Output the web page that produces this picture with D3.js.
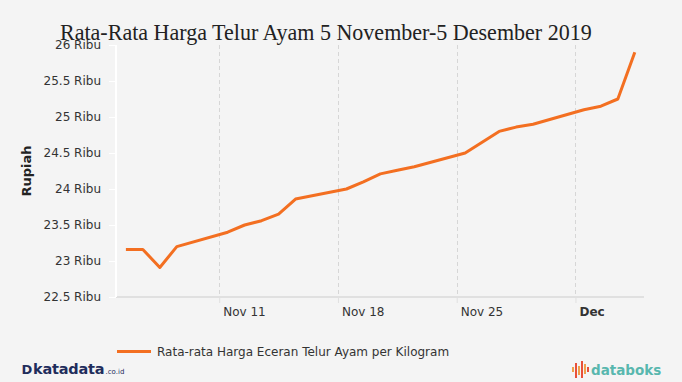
<!DOCTYPE html>
<html>
<head>
<meta charset="utf-8">
<script src="https://cdn.jsdelivr.net/npm/d3@7"></script>
<style>
  html, body { margin: 0; padding: 0; background: #f4f4f4; }
  svg { display: block; }
</style>
</head>
<body>
<div id="chart"></div>
<script>
// ---- Data ----
const titleText = "Rata-Rata Harga Telur Ayam 5 November-5 Desember 2019";
const seriesName = "Rata-rata Harga Eceran Telur Ayam per Kilogram";
const yAxisTitle = "Rupiah";
const dates = ["2019-11-05","2019-11-06","2019-11-07","2019-11-08",
  "2019-11-11","2019-11-12","2019-11-13","2019-11-14","2019-11-15",
  "2019-11-18","2019-11-19","2019-11-20","2019-11-21","2019-11-22",
  "2019-11-25","2019-11-26","2019-11-27","2019-11-28","2019-11-29",
  "2019-12-02","2019-12-03","2019-12-04","2019-12-05"];
const values = [23.16,23.16,22.91,23.2,
  23.4,23.5,23.56,23.65,23.86,
  24.0,24.1,24.21,24.26,24.31,
  24.5,24.65,24.8,24.86,24.9,
  25.1,25.15,25.25,25.9];
const yTicks = [22.5,23,23.5,24,24.5,25,25.5,26];
const xTickDates = ["2019-11-11","2019-11-18","2019-11-25","2019-12-02"];
const xTickLabels = ["Nov 11","Nov 18","Nov 25","Dec"];
const xDomain = ["2019-11-04T22:00","2019-12-06T01:00"];

// ---- Setup ----
const W = 682, H = 382;
const plot = {left: 116, right: 644, top: 45, bottom: 297};
const parseDay = d3.timeParse("%Y-%m-%d");
const parseDT = d3.timeParse("%Y-%m-%dT%H:%M");
const noon = s => d3.timeHour.offset(parseDay(s), 12);

const svg = d3.select("#chart").append("svg").attr("width", W).attr("height", H);
svg.append("rect").attr("width", W).attr("height", H).attr("fill", "#f4f4f4");

const x = d3.scaleTime().domain(xDomain.map(parseDT)).range([plot.left, plot.right]);
const y = d3.scaleLinear().domain([22.5, 26]).range([plot.bottom, plot.top]);

// vertical dashed grid
svg.append("g").selectAll("line").data(xTickDates).join("line")
  .attr("x1", d => Math.round(x(parseDay(d))) + 0.5)
  .attr("x2", d => Math.round(x(parseDay(d))) + 0.5)
  .attr("y1", plot.top).attr("y2", plot.bottom)
  .attr("stroke", "#d6d6d6").attr("stroke-width", 1).attr("stroke-dasharray", "4,3");

// x axis
const xAxis = d3.axisBottom(x)
  .tickValues(xTickDates.map(parseDay))
  .tickSize(6)
  .tickFormat((d, i) => xTickLabels[i]);
const gx = svg.append("g").attr("transform", `translate(0,${plot.bottom})`).call(xAxis);
gx.select(".domain").attr("stroke", "#e0e0e0").attr("stroke-width", 2)
  .attr("d", `M${plot.left},0H${plot.right}`);
gx.selectAll(".tick line").attr("stroke", "#e0e0e0").attr("stroke-width", 1);
gx.selectAll(".tick text")
  .attr("text-anchor", "start").attr("x", 3.5).attr("y", 19).attr("dy", 0)
  .attr("fill", "#333").style("font-family", "DejaVu Sans").style("font-size", "12px")
  .style("font-weight", (d, i) => xTickLabels[i] === "Dec" ? "bold" : "normal");

// y axis
const yAxis = d3.axisLeft(y).tickValues(yTicks).tickSize(7).tickPadding(8)
  .tickFormat(d => d3.format("")(d) + " Ribu");
const gy = svg.append("g").attr("transform", `translate(${plot.left},0)`).call(yAxis);
gy.select(".domain").attr("stroke", "#ffffff").attr("stroke-width", 2)
  .attr("d", `M0,${plot.top}V${plot.bottom}`);
gy.selectAll(".tick line").attr("stroke", "#ffffff").attr("stroke-width", 1);
gy.selectAll(".tick text").attr("fill", "#333")
  .style("font-family", "DejaVu Sans").style("font-size", "12px");

// y axis title
svg.append("text")
  .attr("transform", `translate(31,${(plot.top + plot.bottom) / 2}) rotate(-90)`)
  .attr("text-anchor", "middle")
  .style("font-family", "DejaVu Sans").style("font-size", "13px").style("font-weight", "bold")
  .attr("fill", "#222").text(yAxisTitle);

// line
const data = dates.map((d, i) => ({date: noon(d), value: values[i]}));
const line = d3.line().x(d => x(d.date)).y(d => y(d.value));
svg.append("path").datum(data).attr("d", line)
  .attr("fill", "none").attr("stroke", "#f36f21").attr("stroke-width", 3)
  .attr("stroke-linejoin", "round").attr("stroke-linecap", "butt");

// title
const title = svg.append("text").attr("x", 60).attr("y", 40)
  .style("font-family", "Liberation Serif").style("font-size", "22px")
  .attr("fill", "#222").text(titleText);
const tw = title.node().getComputedTextLength();
title.style("font-size", (22 * 532 / tw).toFixed(2) + "px");

// legend
svg.append("line").attr("x1", 117).attr("x2", 151).attr("y1", 351.5).attr("y2", 351.5)
  .attr("stroke", "#f36f21").attr("stroke-width", 3);
svg.append("text").attr("x", 157).attr("y", 356)
  .style("font-family", "DejaVu Sans").style("font-size", "12px")
  .attr("fill", "#333").text(seriesName);

// katadata logo
svg.append("text").attr("x", 21.5).attr("y", 374)
  .style("font-family", "DejaVu Sans").style("font-size", "13px").style("font-weight", "bold")
  .attr("fill", "#1f2d5c").text("D");
svg.append("text").attr("x", 33).attr("y", 374)
  .style("font-family", "DejaVu Sans").style("font-size", "14.5px").style("font-weight", "bold")
  .attr("fill", "#1f2d5c").attr("letter-spacing", "-0.2").text("katadata");
svg.append("text").attr("x", 105.5).attr("y", 374)
  .style("font-family", "DejaVu Sans").style("font-size", "7px")
  .attr("fill", "#1f2d5c").text(".co.id");

// databoks logo
const barsIcon = [
  {dx: 0, top: 367, bot: 372, c: "#f0a04b"},
  {dx: 3, top: 363, bot: 378, c: "#e8503a"},
  {dx: 6, top: 366, bot: 375, c: "#f0a04b"},
  {dx: 9, top: 361, bot: 378, c: "#e8503a"},
  {dx: 12, top: 364, bot: 374, c: "#f0a04b"},
  {dx: 15, top: 367, bot: 372, c: "#e8503a"}
];
svg.append("g").selectAll("rect").data(barsIcon).join("rect")
  .attr("x", d => 572 + d.dx).attr("y", d => d.top)
  .attr("width", 2).attr("height", d => d.bot - d.top).attr("fill", d => d.c);
svg.append("text").attr("x", 591).attr("y", 374.5)
  .style("font-family", "DejaVu Sans").style("font-size", "13.5px").style("font-weight", "bold")
  .attr("fill", "#58b7ae").text("databoks");
</script>
</body>
</html>
